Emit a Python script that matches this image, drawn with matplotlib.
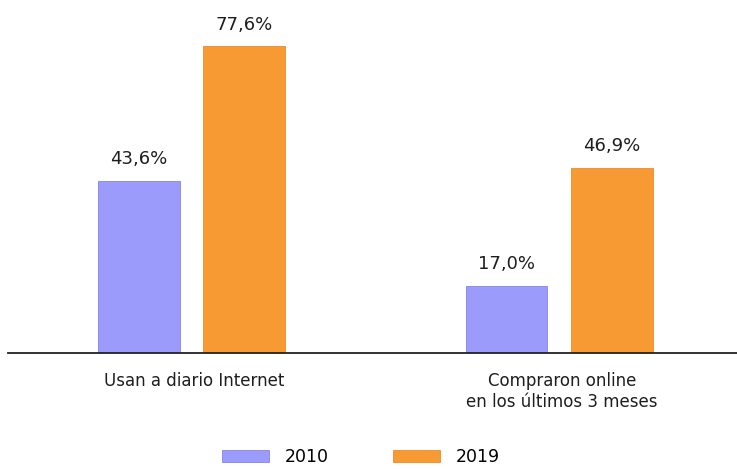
import numpy as np
import matplotlib
matplotlib.use('Agg')
import matplotlib.pyplot as plt

# data
aCategory = ['Usan a diario Internet', 'Compraron online\nen los últimos 3 meses']
aValue_2010 = [43.6, 17.0]
aValue_2019 = [77.6, 46.9]
aLabel_series = ['2010', '2019']

sColor_2010 = '#9b9bfb'
sColor_2019 = '#f89a34'

plt.rcParams['font.family'] = ['DejaVu Sans']

fig = plt.figure(figsize=(7.37, 4.69), dpi=100)
# axes bottom at the baseline, top at the figure top
ax = fig.add_axes([8 / 737, 116 / 469, 729 / 737, 353 / 469])

x = np.arange(len(aCategory))
dWidth = 0.223
dOffset = 0.143

pBar_a = ax.bar(x - dOffset, aValue_2010, dWidth, color=sColor_2010,
                edgecolor='#8585e8', linewidth=0.6, label=aLabel_series[0])
pBar_b = ax.bar(x + dOffset, aValue_2019, dWidth, color=sColor_2019,
                edgecolor='#ee8c25', linewidth=0.6, label=aLabel_series[1])

for pBar, aValue in [(pBar_a, aValue_2010), (pBar_b, aValue_2019)]:
    for rect, dValue in zip(pBar, aValue):
        sText = '{:.1f}%'.format(dValue).replace('.', ',')
        ax.annotate(sText, (rect.get_x() + rect.get_width() / 2, dValue),
                    xytext=(0, 9), textcoords='offset points',
                    ha='center', va='bottom', fontsize=13, color='#1e1e1e')

ax.set_xlim(-0.499, 1.484)
ax.set_ylim(0, 353 / 3.95)

for sSide in ['left', 'right', 'top']:
    ax.spines[sSide].set_visible(False)
ax.spines['bottom'].set_color('#222222')
ax.spines['bottom'].set_linewidth(1.3)
ax.set_yticks([])
ax.set_xticks(x + 0.008)
ax.set_xticklabels(aCategory, fontsize=12, color='#1e1e1e', linespacing=1.2)
ax.tick_params(axis='x', length=0, pad=14)

fig.legend(handles=[pBar_a, pBar_b], labels=aLabel_series, loc='center',
           bbox_to_anchor=(361 / 737, 12 / 469), ncol=2, frameon=False,
           fontsize=12.5, handlelength=2.7, handleheight=0.65,
           handletextpad=0.9, columnspacing=3.7)

plt.savefig('out.png', dpi=100)
plt.close(fig)
